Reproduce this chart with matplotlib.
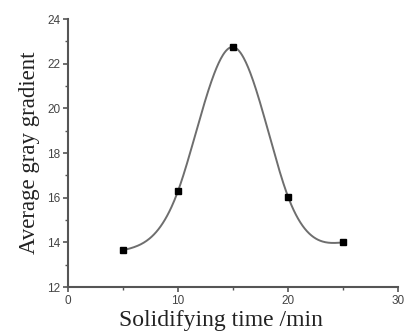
import numpy as np
import matplotlib.pyplot as plt

# data
tiempo = [5, 10, 15, 20, 25]
gradiente = [13.65, 16.3, 22.75, 16.05, 14.0]

x_ticks = [0, 10, 20, 30]
y_ticks = [12, 14, 16, 18, 20, 22, 24]


# natural cubic spline through the points (like Origin's spline line)
def spline(x, y, n=300):
    x = np.asarray(x, float)
    y = np.asarray(y, float)
    h = np.diff(x)
    k = len(x)
    A = np.zeros((k, k))
    b = np.zeros(k)
    A[0, 0] = 1
    A[-1, -1] = 1
    for i in range(1, k - 1):
        A[i, i - 1] = h[i - 1]
        A[i, i] = 2 * (h[i - 1] + h[i])
        A[i, i + 1] = h[i]
        b[i] = 6 * ((y[i + 1] - y[i]) / h[i] - (y[i] - y[i - 1]) / h[i - 1])
    M = np.linalg.solve(A, b)
    xs = np.linspace(x[0], x[-1], n)
    idx = np.clip(np.searchsorted(x, xs) - 1, 0, k - 2)
    x0, x1 = x[idx], x[idx + 1]
    hh = x1 - x0
    ys = (M[idx] * (x1 - xs) ** 3 / (6 * hh) + M[idx + 1] * (xs - x0) ** 3 / (6 * hh)
          + (y[idx] / hh - M[idx] * hh / 6) * (x1 - xs)
          + (y[idx + 1] / hh - M[idx + 1] * hh / 6) * (xs - x0))
    return xs, ys


fig = plt.figure(figsize=(4.07, 3.35), dpi=100)
ax = fig.add_axes([0.167, 0.143, 0.811, 0.800])

xs, ys = spline(tiempo, gradiente)
ax.plot(xs, ys, color='#6e6e6e', lw=1.4, zorder=2)
ax.plot(tiempo, gradiente, 's', color='black', markersize=4, zorder=3)

ax.set_xlim(0, 30)
ax.set_ylim(12, 24)
ax.set_xticks(x_ticks)
ax.set_yticks(y_ticks)
ax.set_xticks([5, 15, 25], minor=True)
ax.set_yticks([13, 15, 17, 19, 21, 23], minor=True)

for s in ['top', 'right']:
    ax.spines[s].set_visible(False)
for s in ['left', 'bottom']:
    ax.spines[s].set_color('#555555')
    ax.spines[s].set_linewidth(1.5)

ax.tick_params(which='major', direction='out', length=3.5, width=1.2,
               color='#555555', labelsize=8.5, labelcolor='#444444', pad=2)
ax.tick_params(which='minor', direction='out', length=2, width=1.0, color='#555555')
for lab in ax.get_xticklabels() + ax.get_yticklabels():
    lab.set_family('Liberation Sans')

ax.set_xlabel('Solidifying time /min', family='Liberation Serif', fontsize=17,
              color='#222222')
ax.xaxis.set_label_coords(0.464, -0.086)
ax.set_ylabel('Average gray gradient', family='Liberation Serif', fontsize=16.5,
              color='#222222', labelpad=5)

fig.savefig('out.png', dpi=100)
